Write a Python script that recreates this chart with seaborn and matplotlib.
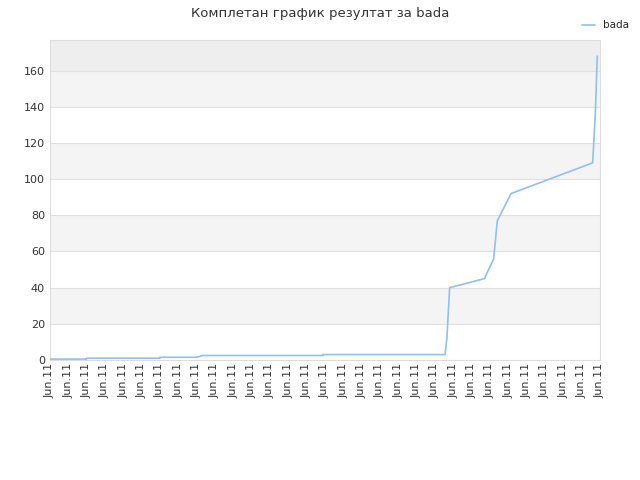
import matplotlib
matplotlib.use("Agg")
import matplotlib.pyplot as plt
import seaborn as sns
import pandas as pd

# Data (x in days from start, y = score)
days = [0, 2.0, 2.0, 6.0, 6.0, 8.0, 8.35, 14.9, 14.9, 21.55, 21.65, 21.8,
        23.7, 24.2, 24.4, 25.15, 29.6, 29.75, 29.85]
scores = [0.5, 0.5, 1.0, 1.0, 1.5, 1.5, 2.5, 2.5, 3.0, 3.0, 12, 40,
          45, 56, 77, 92, 109, 137, 168]
tick_labels = ["Jun.11"] * 31

df = pd.DataFrame({"day": days, "score": scores})

sns.set_style("white")
plt.rcParams["font.family"] = ["DejaVu Sans"]

fig, ax = plt.subplots(figsize=(6.4, 4.8), dpi=100)
fig.subplots_adjust(left=0.078, right=0.9375, top=0.917, bottom=0.25)

# alternating bands
bands = [(0, 20, "#ffffff"), (20, 40, "#f4f4f4"), (40, 60, "#ffffff"),
         (60, 80, "#f4f4f4"), (80, 100, "#ffffff"), (100, 120, "#f4f4f4"),
         (120, 140, "#ffffff"), (140, 160, "#f4f4f4"), (160, 180, "#eeeeee")]
for lo, hi, c in bands:
    ax.axhspan(lo, hi, color=c, zorder=0, lw=0)
for yv in range(20, 180, 20):
    ax.axhline(yv, color="#e0e0e0", lw=0.8, zorder=1)

sns.lineplot(data=df, x="day", y="score", ax=ax, color="#90c0f0", lw=1.2,
             label="bada", zorder=3, sort=False, estimator=None)

ax.set_xlim(0, 30)
ax.set_ylim(0, 177)
ax.set_yticks(range(0, 180, 20))
ax.set_xticks(range(31))
ax.set_xticklabels(tick_labels, rotation=90, fontsize=8, color="#333333")
ax.tick_params(axis="y", labelsize=8, colors="#333333", length=0)
ax.tick_params(axis="x", length=0, pad=2)
ax.set_xlabel("")
ax.set_ylabel("")
for s in ax.spines.values():
    s.set_color("#dddddd")

fig.suptitle("Комплетан график резултат за bada", fontsize=9.5, color="#333333", y=0.985)
leg = ax.legend(loc="upper right", bbox_to_anchor=(1.07, 1.09), frameon=False,
                fontsize=7.5, handlelength=1.2)

fig.savefig("out.png", dpi=100)
